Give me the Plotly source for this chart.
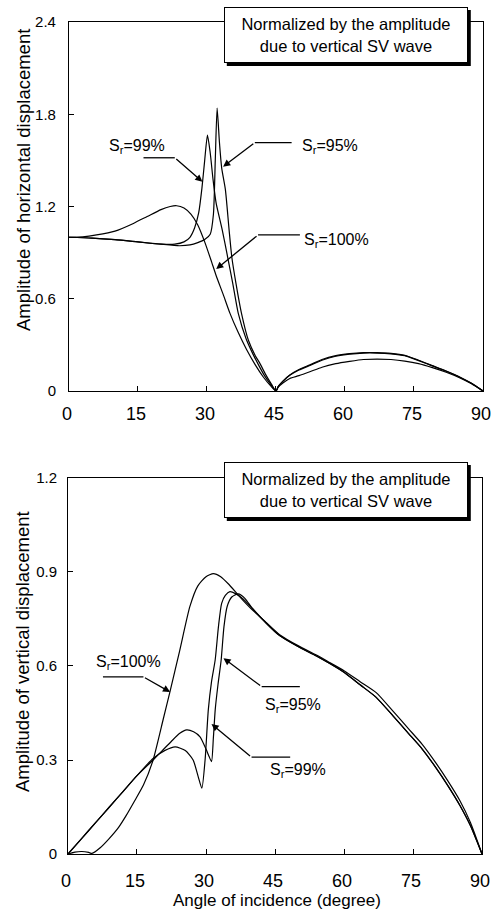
import plotly.graph_objects as go

# ---------------- data: horizontal displacement (top) ----------------
ang_h_95 = [0, 5, 10, 15, 20, 24, 26.3, 28, 29.5, 30.7, 31.4, 31.8, 32.2, 32.7, 33.2, 34, 34.8,
            35.4, 36.3, 37.5, 39, 40.5, 41.5, 42.7, 44, 45,
            45.5, 46.5, 48, 50, 52.5, 55, 58, 61, 64, 67, 70, 73, 76, 79, 82, 85, 87.5, 90]
amp_h_95 = [1.0, 0.995, 0.985, 0.97, 0.955, 0.945, 0.95, 0.965, 0.985, 1.02, 1.15, 1.5, 1.84, 1.62,
            1.45, 1.31, 1.05, 0.87, 0.7, 0.505, 0.33, 0.23, 0.18, 0.11, 0.045, 0,
            0.03, 0.065, 0.105, 0.14, 0.172, 0.205, 0.23, 0.243, 0.25, 0.25, 0.245, 0.232, 0.2,
            0.165, 0.13, 0.09, 0.05, 0]

ang_h_99 = [0, 5, 10, 15, 20, 23, 25, 26.3, 27.3, 28.2, 28.9, 29.5, 30.1, 30.7, 31.3, 32, 33.3,
            34.5, 35.6, 36.8, 38.5, 40, 41.2, 42.5, 43.8, 45,
            45.5, 46.5, 48, 50, 52.5, 55, 58, 61, 64, 67, 70, 73, 76, 79, 82, 85, 87.5, 90]
amp_h_99 = [1.0, 0.995, 0.985, 0.97, 0.955, 0.955, 0.97, 1.0, 1.06, 1.16, 1.32, 1.5, 1.665, 1.55,
            1.38, 1.22, 1.05, 0.87, 0.7, 0.505, 0.34, 0.24, 0.17, 0.1, 0.045, 0,
            0.03, 0.063, 0.102, 0.137, 0.168, 0.2, 0.226, 0.24, 0.247, 0.247, 0.242, 0.23, 0.198,
            0.164, 0.129, 0.09, 0.05, 0]

ang_h_100 = [0, 3, 6, 10, 14, 17, 20, 22, 23.4, 25, 26.5, 28, 29.5, 31, 32, 33.5, 35, 36.8, 38.6,
             40.5, 42.2, 43.8, 45,
             45.5, 46.5, 48, 50, 52.5, 55, 58, 61, 64, 67, 70, 73, 76, 79, 82, 85, 87.5, 90]
amp_h_100 = [1.0, 1.003, 1.015, 1.04, 1.09, 1.135, 1.18, 1.2, 1.205, 1.19, 1.15, 1.08, 0.97, 0.84,
             0.75, 0.63, 0.505, 0.38, 0.27, 0.17, 0.093, 0.035, 0,
             0.025, 0.052, 0.082, 0.1, 0.127, 0.155, 0.178, 0.193, 0.205, 0.208, 0.205, 0.195,
             0.178, 0.152, 0.122, 0.085, 0.047, 0]

# ---------------- data: vertical displacement (bottom) ----------------
ang_v_95 = [0, 3, 6, 9, 12, 15, 18.5, 20.5, 22.5, 24.3, 25.8, 27.3, 28.7, 30.0, 30.7, 31.2, 31.6,
            32.0, 32.6, 33.3, 33.9, 34.6, 35.6, 37, 38.5, 40, 43, 46, 50, 54, 57, 60, 63.5, 67,
            70.7, 74, 77, 80, 82.5, 85.2, 87.5, 90]
amp_v_95 = [0, 0.05, 0.1, 0.15, 0.2, 0.25, 0.30, 0.33, 0.36, 0.385, 0.396, 0.39, 0.374, 0.335, 0.31,
            0.295, 0.37, 0.46, 0.54, 0.62, 0.725, 0.79, 0.82, 0.83, 0.815, 0.785, 0.738, 0.697,
            0.662, 0.632, 0.607, 0.58, 0.54, 0.5, 0.44, 0.385, 0.335, 0.275, 0.22, 0.155, 0.09, 0]

ang_v_99 = [0, 3, 6, 9, 12, 15, 18.5, 21, 23.3, 25.5, 27.2, 28.3, 29.1, 29.8, 30.5, 31.2, 32.0,
            32.7, 33.4, 34.2, 35.2, 36.5, 38, 40, 43, 46, 50, 54, 57, 60, 63.5, 67, 70.7, 74, 77,
            80, 82.5, 85.2, 87.5, 90]
amp_v_99 = [0, 0.05, 0.1, 0.15, 0.2, 0.25, 0.305, 0.33, 0.342, 0.33, 0.30, 0.247, 0.21, 0.30, 0.46,
            0.55, 0.62, 0.725, 0.80, 0.825, 0.837, 0.83, 0.815, 0.785, 0.738, 0.697, 0.662, 0.632,
            0.607, 0.58, 0.54, 0.5, 0.44, 0.385, 0.335, 0.275, 0.22, 0.155, 0.09, 0]

ang_v_100 = [0, 1.5, 3, 4.5, 5.2, 7, 9, 11, 12.7, 14.5, 16.4, 18.5, 20.7, 22.2, 24.3, 26.5, 28.2,
             30, 31.6, 33.2, 35, 37.4, 40, 43, 46, 50, 54, 57, 60, 63.5, 67, 70.7, 74, 77, 80,
             82.5, 85.2, 87.5, 90]
amp_v_100 = [0, 0.006, 0.008, 0.005, 0.002, 0.02, 0.05, 0.085, 0.124, 0.17, 0.22, 0.30, 0.43, 0.52,
             0.65, 0.79, 0.855, 0.885, 0.895, 0.885, 0.86, 0.82, 0.78, 0.74, 0.70, 0.665, 0.635,
             0.61, 0.585, 0.55, 0.515, 0.455, 0.40, 0.35, 0.29, 0.235, 0.17, 0.10, 0]

x_ticks = [0, 15, 30, 45, 60, 75, 90]
y_ticks_h = [0, 0.6, 1.2, 1.8, 2.4]
y_ticks_v = [0, 0.3, 0.6, 0.9, 1.2]

box_text = "Normalized by the amplitude<br>due to vertical SV wave"

# label annotations: (text, label_x, label_y, line_x0, line_x1, line_y, tip_x, tip_y, side)
labels_h = [
    ("S<sub>r</sub>=99%", 8.2, 1.589, 16.2, 23.0, 1.517, 29.0, 1.361, "left"),
    ("S<sub>r</sub>=95%", 50.2, 1.589, 40.4, 48.4, 1.615, 33.5, 1.459, "right"),
    ("S<sub>r</sub>=100%", 50.6, 0.982, 41.1, 50.2, 1.015, 32.0, 0.793, "right"),
]
labels_v = [
    ("S<sub>r</sub>=100%", 5.6, 0.610, 7.6, 16.4, 0.565, 22.2, 0.517, "left"),
    ("S<sub>r</sub>=95%", 42.4, 0.475, 42.1, 50.4, 0.534, 33.8, 0.625, "right"),
    ("S<sub>r</sub>=99%", 43.5, 0.268, 39.9, 48.3, 0.309, 31.2, 0.415, "right"),
]

FONT = "Liberation Sans, Arial, sans-serif"
LINE = dict(color="black", width=1.2, shape="spline", smoothing=0.6)

fig = go.Figure()
for a, v in [(ang_h_95, amp_h_95), (ang_h_99, amp_h_99), (ang_h_100, amp_h_100)]:
    fig.add_trace(go.Scatter(x=a, y=v, mode="lines", line=LINE, xaxis="x", yaxis="y",
                             showlegend=False, hoverinfo="skip"))
for a, v in [(ang_v_95, amp_v_95), (ang_v_99, amp_v_99), (ang_v_100, amp_v_100)]:
    fig.add_trace(go.Scatter(x=a, y=v, mode="lines", line=LINE, xaxis="x2", yaxis="y2",
                             showlegend=False, hoverinfo="skip"))

axis_common = dict(showline=True, linecolor="black", linewidth=1, mirror=True, ticks="inside",
                   ticklen=5, tickcolor="black", showgrid=False, zeroline=False,
                   automargin=False, ticklabeloverflow="allow")

fig.update_layout(
    width=492, height=913, margin=dict(l=0, r=0, t=0, b=0, autoexpand=False),
    paper_bgcolor="white", plot_bgcolor="white",
    font=dict(family=FONT, color="black"),
    xaxis=dict(domain=[0.1402, 0.9817], range=[0, 90], tickvals=x_ticks, anchor="y",
               tickfont=dict(size=18), ticklabelstandoff=6, ticklabelshift=-2, **axis_common),
    yaxis=dict(domain=[0.5717, 0.9759], range=[0, 2.4], tickvals=y_ticks_h,
               ticktext=[f"{t:g}" for t in y_ticks_h], anchor="x",
               tickfont=dict(size=15), ticklabelstandoff=9, **axis_common),
    xaxis2=dict(domain=[0.1382, 0.9797], range=[0, 90], tickvals=x_ticks, anchor="y2",
                tickfont=dict(size=18), ticklabelstandoff=10, ticklabelshift=-2, **axis_common),
    yaxis2=dict(domain=[0.0646, 0.4765], range=[0, 1.2], tickvals=y_ticks_v,
                ticktext=[f"{t:g}" for t in y_ticks_v], anchor="x2",
                tickfont=dict(size=15), ticklabelstandoff=7, **axis_common),
)

annotations = []
shapes = []

def add_labels(labels, xr, yr):
    for text, lx, ly, x0, x1, yl, tx, ty, side in labels:
        annotations.append(dict(text=text, x=lx, y=ly, xref=xr, yref=yr, xanchor="left",
                                yanchor="middle", showarrow=False, font=dict(size=16)))
        shapes.append(dict(type="line", xref=xr, yref=yr, x0=x0, x1=x1, y0=yl, y1=yl,
                           line=dict(color="black", width=1.3)))
        sx = x1 if side == "left" else x0
        annotations.append(dict(text="", x=tx, y=ty, xref=xr, yref=yr, ax=sx, ay=yl,
                                axref=xr, ayref=yr, showarrow=True, arrowhead=2,
                                arrowsize=1.1, arrowwidth=1.3, arrowcolor="black"))

add_labels(labels_h, "x", "y")
add_labels(labels_v, "x2", "y2")

# normalization boxes with shadow
for cx, cy in [(345.8, 35.0), (345.8, 490.0)]:
    w, h = 244, 56
    x0, x1 = cx - w / 2, cx + w / 2
    y0, y1 = cy - h / 2, cy + h / 2
    shapes.append(dict(type="rect", xref="paper", yref="paper",
                       x0=(x0 + 3) / 492, x1=(x1 + 3) / 492,
                       y0=1 - (y1 + 3) / 913, y1=1 - (y0 + 3) / 913,
                       fillcolor="black", line=dict(width=0), layer="above"))
    annotations.append(dict(text=box_text, x=cx / 492, y=1 - cy / 913, xref="paper", yref="paper",
                            xanchor="center", yanchor="middle", showarrow=False,
                            width=w - 4, height=h - 4, borderpad=1, bgcolor="white",
                            bordercolor="black", borderwidth=1, align="center",
                            font=dict(size=16.5)))

# axis titles
annotations.append(dict(text="Amplitude of horizontal displacement", x=24 / 492, y=1 - 180 / 913,
                        xref="paper", yref="paper", textangle=-90, showarrow=False,
                        xanchor="center", yanchor="middle", font=dict(size=18.5)))
annotations.append(dict(text="Amplitude of vertical displacement", x=22 / 492, y=1 - 652 / 913,
                        xref="paper", yref="paper", textangle=-90, showarrow=False,
                        xanchor="center", yanchor="middle", font=dict(size=18.5)))
annotations.append(dict(text="Angle of incidence (degree)", x=276.5 / 492, y=1 - 900 / 913,
                        xref="paper", yref="paper", showarrow=False,
                        xanchor="center", yanchor="middle", font=dict(size=17)))

fig.update_layout(annotations=annotations, shapes=shapes)
fig.write_html("out.html")
